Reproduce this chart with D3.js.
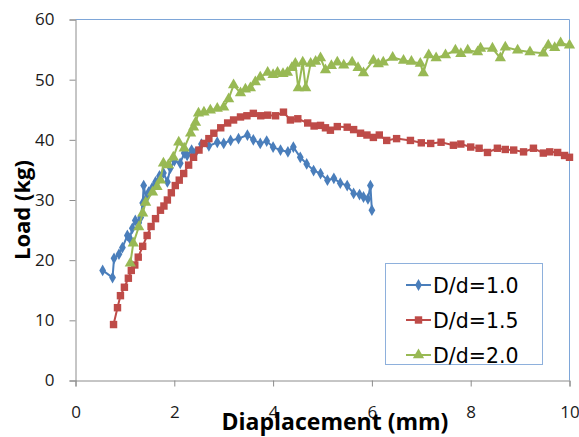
<!DOCTYPE html>
<html><head><meta charset="utf-8">
<script src="https://cdn.jsdelivr.net/npm/d3@7"></script>
<style>body{margin:0;background:#fff}svg{display:block}</style>
</head><body><svg id="c" width="579" height="437"></svg>
<script>
const seriesNames = ["D/d=1.0","D/d=1.5","D/d=2.0"];
const xTicks = [0,2,4,6,8,10];
const yTicks = [0,10,20,30,40,50,60];
const blueX = [0.55,0.75,0.78,0.88,0.95,1.05,1.1,1.15,1.21,1.28,1.32,1.36,1.38,1.43,1.48,1.55,1.62,1.7,1.78,1.86,1.92,2.0,2.12,2.2,2.26,2.35,2.43,2.55,2.7,2.87,3.0,3.14,3.3,3.48,3.6,3.74,3.87,4.0,4.15,4.3,4.41,4.55,4.68,4.82,4.96,5.1,5.23,5.36,5.5,5.63,5.75,5.83,5.92,5.97,6.0];
const blueY = [18.3,17.1,20.3,21.0,22.1,24.1,23.6,25.3,26.6,26.2,27.1,29.5,32.4,30.2,31.3,32.0,33.0,34.0,34.5,33.0,35.3,36.5,36.1,37.8,37.4,38.3,37.9,39.3,39.0,39.6,39.4,39.9,40.2,40.8,40.0,39.4,39.8,38.8,38.3,38.0,38.8,37.1,36.0,34.9,34.4,33.3,33.6,32.8,32.4,31.1,30.9,30.5,30.2,32.4,28.3];
const redX = [0.77,0.85,0.91,0.99,1.07,1.13,1.2,1.27,1.36,1.45,1.53,1.62,1.72,1.79,1.86,1.94,2.02,2.1,2.19,2.29,2.39,2.5,2.6,2.7,2.8,2.94,3.08,3.2,3.34,3.47,3.6,3.75,3.89,4.05,4.21,4.35,4.5,4.7,4.83,4.96,5.06,5.16,5.3,5.5,5.63,5.77,5.9,6.03,6.15,6.3,6.5,6.78,7.0,7.19,7.4,7.65,7.8,8.0,8.17,8.34,8.54,8.7,8.87,9.07,9.27,9.47,9.6,9.76,9.9,10.0];
const redY = [9.3,12.1,14.1,15.5,17.0,18.3,19.2,20.5,22.3,24.1,25.6,26.9,28.3,29.0,30.0,31.2,32.4,33.3,34.4,35.8,37.1,38.3,39.4,40.2,41.1,42.0,42.8,43.3,43.8,44.0,44.4,44.0,44.1,44.0,44.6,43.3,43.5,42.8,42.3,42.4,42.0,41.6,42.2,42.1,41.7,41.1,40.8,40.4,40.8,39.9,40.2,39.9,39.5,39.4,39.6,39.1,39.3,38.8,38.6,37.9,38.6,38.4,38.3,38.0,38.6,37.8,38.0,37.9,37.4,37.1];
const greenX = [1.11,1.17,1.28,1.36,1.42,1.56,1.65,1.72,1.78,1.88,1.98,2.09,2.2,2.33,2.39,2.43,2.49,2.6,2.73,2.87,3.0,3.1,3.2,3.34,3.44,3.54,3.64,3.74,3.89,4.0,4.09,4.2,4.29,4.38,4.45,4.51,4.6,4.66,4.76,4.86,4.96,5.06,5.18,5.3,5.43,5.6,5.72,5.83,6.03,6.13,6.23,6.42,6.64,6.8,6.98,7.04,7.15,7.3,7.49,7.69,7.8,7.94,8.14,8.2,8.44,8.6,8.7,8.95,9.2,9.47,9.57,9.7,9.82,10.0];
const greenY = [19.5,22.8,25.5,27.8,29.6,31.3,32.2,33.3,36.1,35.8,37.1,39.6,38.6,41.1,42.1,42.9,44.4,44.6,44.9,45.2,45.4,46.8,49.1,47.8,48.4,48.6,49.6,50.4,51.2,50.8,51.2,51.0,51.2,52.0,52.7,48.6,52.9,48.6,52.7,53.0,53.6,51.6,52.3,52.9,52.4,52.9,52.0,51.1,53.2,52.6,52.9,53.7,53.2,53.0,52.7,51.1,54.1,53.6,54.1,54.9,54.3,54.9,54.6,55.2,55.2,53.6,55.4,54.9,54.6,54.4,55.7,55.3,56.1,55.7];

const colors = ["#4A7EBB","#BE4B48","#98B954"];
const series = [
  {name:seriesNames[0], color:colors[0], shape:"diamond", pts:blueX.map((x,i)=>[x,blueY[i]])},
  {name:seriesNames[1], color:colors[1], shape:"square", pts:redX.map((x,i)=>[x,redY[i]])},
  {name:seriesNames[2], color:colors[2], shape:"triangle", pts:greenX.map((x,i)=>[x,greenY[i]])}
];
const svg = d3.select("#c");
const x = d3.scaleLinear().domain([0,10]).range([75.5,569.5]);
const y = d3.scaleLinear().domain([0,60]).range([380.5,19.5]);
const font = "'Open Sans', 'Noto Sans', sans-serif";

// plot border top/right
svg.append("path").attr("d",`M${x(0)},${y(60)}H${x(10)}V${y(0)}`).attr("fill","none").attr("stroke","#7EA6D8").attr("stroke-width",1);

const symbols = {diamond:d3.symbol().type(d3.symbolDiamond).size(40),
  square:d3.symbol().type(d3.symbolSquare).size(55),
  triangle:d3.symbol().type(d3.symbolTriangle).size(55)};

// axes
const yAxis = svg.append("g").attr("transform",`translate(${x(0)},0)`).call(d3.axisLeft(y).tickValues(yTicks).tickSize(6).tickPadding(15).tickFormat(d3.format("d")));
const xAxis = svg.append("g").attr("transform",`translate(0,${y(0)})`).call(d3.axisBottom(x).tickValues(xTicks).tickSize(6).tickPadding(19).tickFormat(d3.format("d")));
[yAxis,xAxis].forEach(a=>{
  a.select(".domain").attr("stroke","#8C8C8C");
  a.selectAll(".tick line").attr("stroke","#8C8C8C");
  a.selectAll("text").attr("font-family",font).attr("font-size",17).attr("fill","#1a1a1a");
});

const line = d3.line().x(d=>x(d[0])).y(d=>y(d[1]));
series.forEach(s=>{
  svg.append("path").datum(s.pts).attr("d",line).attr("fill","none").attr("stroke",s.color).attr("stroke-width",2);
  svg.append("g").selectAll("path").data(s.pts).join("path")
    .attr("transform",d=>`translate(${x(d[0])},${y(d[1])})`)
    .attr("d",symbols[s.shape]).attr("fill",s.color);
});

// titles
svg.append("text").attr("x",335).attr("y",430).attr("text-anchor","middle").attr("font-family",font)
  .attr("font-weight","bold").attr("font-size",23).attr("fill","#000").text("Diaplacement (mm)");
svg.append("text").attr("transform","translate(30,210) rotate(-90)").attr("text-anchor","middle").attr("font-family",font)
  .attr("font-weight","bold").attr("font-size",22).attr("fill","#000").text("Load (kg)");

// legend
const lg = svg.append("g");
lg.append("rect").attr("x",385.5).attr("y",263.5).attr("width",157).attr("height",101).attr("fill","#fff").attr("stroke","#8EB0DC");
series.forEach((s,i)=>{
  const cy = 285 + i*35;
  lg.append("line").attr("x1",406).attr("x2",431).attr("y1",cy).attr("y2",cy).attr("stroke",s.color).attr("stroke-width",2);
  lg.append("path").attr("transform",`translate(418.5,${cy})`).attr("d",symbols[s.shape]).attr("fill",s.color);
  lg.append("text").attr("x",433).attr("y",cy+7.5).attr("font-family","'DejaVu Sans', sans-serif").attr("font-size",20.5).attr("fill","#000").text(s.name);
});
</script></body></html>
